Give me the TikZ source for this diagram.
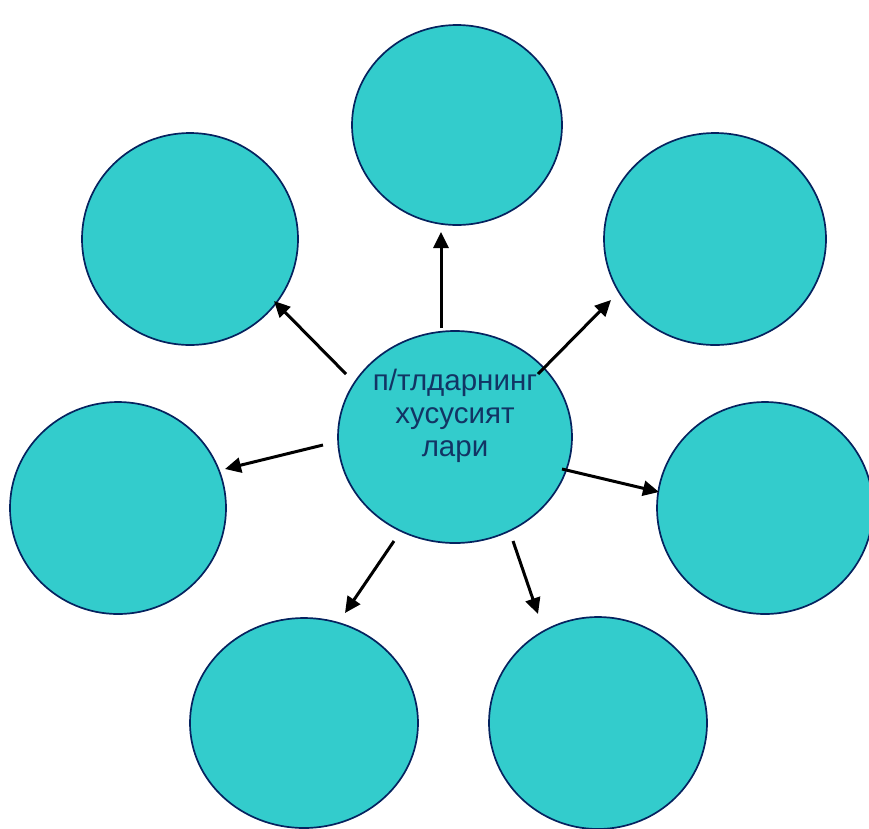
\documentclass[tikz,border=0pt]{standalone}
\usepackage{fontspec}
\setmainfont{Liberation Sans}
\usetikzlibrary{shapes.geometric,arrows.meta}
\definecolor{tealfill}{RGB}{51,204,204}
\definecolor{navyline}{RGB}{5,35,95}
\definecolor{textblue}{RGB}{18,52,100}
\tikzset{
  bubble/.style={ellipse, draw=navyline, line width=1.7pt, fill=tealfill, inner sep=0pt},
  arr/.style={line width=3pt, -{Triangle[length=16pt,width=15pt]}}
}
\begin{document}
\begin{tikzpicture}[x=1pt,y=-1pt]
\useasboundingbox (0,0) rectangle (869,828);
\clip (0,0) rectangle (869,828);
\node[bubble, minimum width=210pt, minimum height=200pt] (t) at (457,125) {};
\node[bubble, minimum width=216pt, minimum height=212pt] (ul) at (190,239) {};
\node[bubble, minimum width=222pt, minimum height=212pt] (ur) at (715,239) {};
\node[bubble, minimum width=216pt, minimum height=212pt] (l) at (118,508) {};
\node[bubble, minimum width=216pt, minimum height=212pt] (r) at (765,508) {};
\node[bubble, minimum width=228pt, minimum height=210pt] (bl) at (304,723) {};
\node[bubble, minimum width=218pt, minimum height=212pt] (br) at (598,723) {};
\node[bubble, minimum width=234pt, minimum height=212pt] (c) at (455,437) {};
\node[anchor=north, inner sep=0pt, align=center, text=textblue,
      font=\fontsize{29.5}{33}\selectfont] (ctext) at (455,369)
  {п/тлдарнинг\\ хусусият\\ лари};
% arrow end points
\coordinate (s1) at (441,328); \coordinate (e1) at (441,232);
\coordinate (s2) at (346,374); \coordinate (e2) at (274,301);
\coordinate (s3) at (538,374); \coordinate (e3) at (611,300);
\coordinate (s4) at (323,445); \coordinate (e4) at (225,469);
\coordinate (s5) at (562,469); \coordinate (e5) at (659,492);
\coordinate (s6) at (394,541); \coordinate (e6) at (345,613);
\coordinate (s7) at (513,541); \coordinate (e7) at (538,614);
\draw[arr] (s1) -- (e1);
\draw[arr] (s2) -- (e2);
\draw[arr] (s3) -- (e3);
\draw[arr] (s4) -- (e4);
\draw[arr] (s5) -- (e5);
\draw[arr] (s6) -- (e6);
\draw[arr] (s7) -- (e7);
\end{tikzpicture}
\end{document}
